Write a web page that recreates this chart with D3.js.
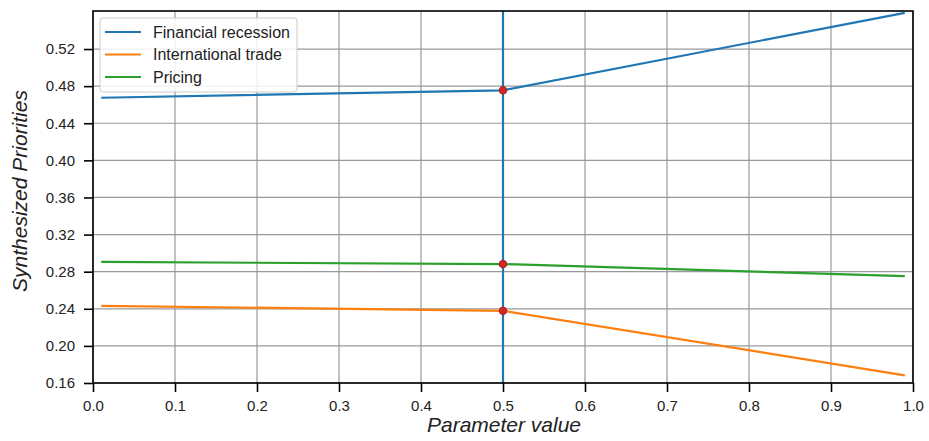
<!DOCTYPE html>
<html><head><meta charset="utf-8">
<script src="https://cdn.jsdelivr.net/npm/d3@7"></script>
<style>body{margin:0;background:#fff;} text{font-family:"Liberation Sans",Arial,sans-serif;}</style>
</head><body>
<svg id="c" width="929" height="441"></svg>
<script>
const xValues = [0.01, 0.5, 0.99];
const seriesNames = ["Financial recession", "International trade", "Pricing"];
const financialRecession = [0.4675, 0.4755, 0.559];
const internationalTrade = [0.2432, 0.2378, 0.1683];
const pricing = [0.2905, 0.2882, 0.2752];
const colors = ["#1f77b4", "#ff7f0e", "#2ca02c"];
const xTicks = [0,0.1,0.2,0.3,0.4,0.5,0.6,0.7,0.8,0.9,1.0];
const yTicks = [0.16,0.20,0.24,0.28,0.32,0.36,0.40,0.44,0.48,0.52];
const paramValue = 0.5;

const svg = d3.select("#c");
const L=93, R=913, T=11, B=383;
const x = d3.scaleLinear().domain([0,1]).range([L,R]);
const y = d3.scaleLinear().domain([0.16,0.561]).range([B,T]);

// grid
const g = svg.append("g");
g.selectAll(".vx").data(xTicks).join("line")
  .attr("x1",d=>x(d)).attr("x2",d=>x(d)).attr("y1",T).attr("y2",B)
  .attr("stroke","#999").attr("stroke-width",1.2);
g.selectAll(".hy").data(yTicks).join("line")
  .attr("x1",L).attr("x2",R).attr("y1",d=>y(d)).attr("y2",d=>y(d))
  .attr("stroke","#999").attr("stroke-width",1.2);

const allSeries = [financialRecession, internationalTrade, pricing];
const line = d3.line().x((d,i)=>x(xValues[i])).y(d=>y(d));

// vertical line
svg.append("line").attr("x1",x(paramValue)).attr("x2",x(paramValue))
  .attr("y1",T).attr("y2",B).attr("stroke",colors[0]).attr("stroke-width",2.2);

allSeries.forEach((s,k)=>{
  svg.append("path").datum(s).attr("d",line).attr("fill","none")
    .attr("stroke",colors[k]).attr("stroke-width",2.2);
});
// dots
allSeries.forEach((s,k)=>{
  const idx = xValues.indexOf(paramValue);
  svg.append("circle").attr("cx",x(paramValue)).attr("cy",y(s[idx])).attr("r",3.8)
    .attr("fill","#d62728").attr("stroke","#a01020").attr("stroke-width",0.8);
});

// axes
const xa = svg.append("g").attr("transform",`translate(0,${B})`)
  .call(d3.axisBottom(x).tickValues(xTicks).tickFormat(d3.format(".1f")).tickSize(9).tickPadding(8));
const ya = svg.append("g").attr("transform",`translate(${L},0)`)
  .call(d3.axisLeft(y).tickValues(yTicks).tickFormat(d3.format(".2f")).tickSize(9).tickPadding(9));
[xa,ya].forEach(a=>{
  a.select(".domain").remove();
  a.selectAll(".tick line").attr("stroke","#000").attr("stroke-width",1.6);
  a.selectAll(".tick text").attr("font-size",15).attr("fill","#222")
   .attr("font-family","'Liberation Sans',Arial,sans-serif");
});
svg.append("rect").attr("x",L).attr("y",T).attr("width",R-L).attr("height",B-T)
  .attr("fill","none").attr("stroke","#000").attr("stroke-width",1.6);

// axis labels
svg.append("text").attr("x",(L+R)/2+1).attr("y",432).attr("text-anchor","middle")
  .attr("font-size",21).attr("font-style","italic").attr("fill","#222").text("Parameter value");
svg.append("text").attr("transform",`translate(27,${(T+B)/2-6}) rotate(-90)`).attr("text-anchor","middle")
  .attr("font-size",21).attr("font-style","italic").attr("fill","#222").text("Synthesized Priorities");

// legend
const lg = svg.append("g");
lg.append("rect").attr("x",100).attr("y",18).attr("width",197).attr("height",74).attr("rx",3)
  .attr("fill","#fff").attr("fill-opacity",0.85).attr("stroke","#ccc").attr("stroke-width",1);
seriesNames.forEach((n,k)=>{
  const yy = 32 + k*22.5;
  lg.append("line").attr("x1",105).attr("x2",141).attr("y1",yy).attr("y2",yy)
    .attr("stroke",colors[k]).attr("stroke-width",2.2);
  lg.append("text").attr("x",153).attr("y",yy+5.5).attr("font-size",16).attr("fill","#222").text(n);
});
</script>
</body></html>
